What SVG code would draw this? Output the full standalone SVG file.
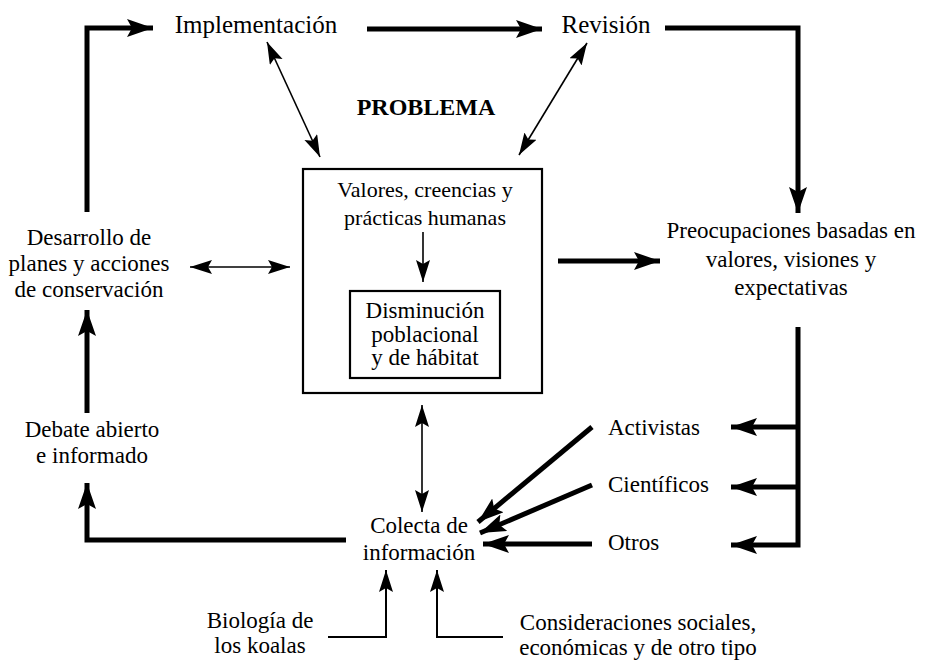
<svg xmlns="http://www.w3.org/2000/svg" width="927" height="661" viewBox="0 0 927 661">
<style>
text{font-family:"Liberation Serif","DejaVu Serif",serif;font-size:23px;fill:#000;text-anchor:middle}
.top{font-size:25px}
.box{font-size:22px}
.bold{font-weight:bold;font-size:24px}
.start{text-anchor:start}
.thick{fill:none;stroke:#000;stroke-width:5}
.thin{fill:none;stroke:#000;stroke-width:1.6}
.mid{fill:none;stroke:#000;stroke-width:2}
.frame{fill:#fff;stroke:#000;stroke-width:2.2}
</style>
<defs>
<marker id="ah" markerUnits="userSpaceOnUse" markerWidth="28" markerHeight="20" refX="26" refY="9" orient="auto">
<path d="M0,0 L26,9 L0,18 L5,9 z" fill="#000"/>
</marker>
<marker id="at" markerUnits="userSpaceOnUse" markerWidth="24" markerHeight="16" refX="22" refY="7" orient="auto-start-reverse">
<path d="M0,0 L22,7 L0,14 L4,7 z" fill="#000"/>
</marker>
</defs>
<g id="problema-box">
<rect class="frame" x="303" y="169" width="239" height="224"/>
<text class="box" x="425" y="197">Valores, creencias y</text>
<text class="box" x="425" y="225">prácticas humanas</text>
</g>
<g id="disminucion">
<rect class="frame" x="350" y="291" width="150" height="87" stroke-width="1.6"/>
<text x="425" y="318">Disminución</text>
<text x="425" y="342">poblacional</text>
<text x="425" y="365">y de hábitat</text>
</g>
<g id="problema-label"><text class="bold" x="426" y="115">PROBLEMA</text></g>
<g id="implementacion"><text class="top" x="256" y="33">Implementación</text></g>
<g id="revision"><text class="top" x="606" y="33">Revisión</text></g>
<g id="preocupaciones">
<text x="791" y="238">Preocupaciones basadas en</text>
<text x="791" y="267">valores, visiones y</text>
<text x="791" y="295">expectativas</text>
</g>
<g id="desarrollo">
<text x="89" y="245">Desarrollo de</text>
<text x="89" y="271">planes y acciones</text>
<text x="89" y="297">de conservación</text>
</g>
<g id="debate">
<text x="92" y="437">Debate abierto</text>
<text x="92" y="463">e informado</text>
</g>
<g id="colecta">
<text x="419" y="533">Colecta de</text>
<text x="419" y="560">información</text>
</g>
<g id="activistas"><text class="start" x="608" y="435">Activistas</text></g>
<g id="cientificos"><text class="start" x="608" y="492">Científicos</text></g>
<g id="otros"><text class="start" x="608" y="550">Otros</text></g>
<g id="biologia">
<text x="260" y="628">Biología de</text>
<text x="260" y="653">los koalas</text>
</g>
<g id="consideraciones">
<text x="638" y="630">Consideraciones sociales,</text>
<text x="638" y="655">económicas y de otro tipo</text>
</g>
<g id="connectors">
<path class="thick" d="M87,212 V28 H153" marker-end="url(#ah)"/>
<path class="thick" d="M367,29 H542" marker-end="url(#ah)"/>
<path class="thick" d="M665,28 H798 V213" marker-end="url(#ah)"/>
<path class="thick" d="M558,261 H660" marker-end="url(#ah)"/>
<path class="thick" d="M798,327 V545 H731" marker-end="url(#ah)"/>
<path class="thick" d="M798,427 H731" marker-end="url(#ah)"/>
<path class="thick" d="M798,487 H731" marker-end="url(#ah)"/>
<path class="thick" d="M592,427 L478,522" marker-end="url(#ah)"/>
<path class="thick" d="M592,485 L480,533" marker-end="url(#ah)"/>
<path class="thick" d="M592,544 H483" marker-end="url(#ah)"/>
<path class="thick" d="M346,540 H87 V483" marker-end="url(#ah)"/>
<path class="thick" d="M87,413 V310" marker-end="url(#ah)"/>
<path class="thin" d="M190,267 H290" marker-start="url(#at)" marker-end="url(#at)"/>
<path class="thin" d="M267,42 L320,157" marker-start="url(#at)" marker-end="url(#at)"/>
<path class="thin" d="M587,43 L519,155" marker-start="url(#at)" marker-end="url(#at)"/>
<path class="thin" d="M423,232 V282" marker-end="url(#at)"/>
<path class="thin" d="M422,405 V512" marker-start="url(#at)" marker-end="url(#at)"/>
<path class="mid" d="M328,637 H386 V570" marker-end="url(#at)"/>
<path class="mid" d="M503,637 H437 V570" marker-end="url(#at)"/>
</g>
</svg>
